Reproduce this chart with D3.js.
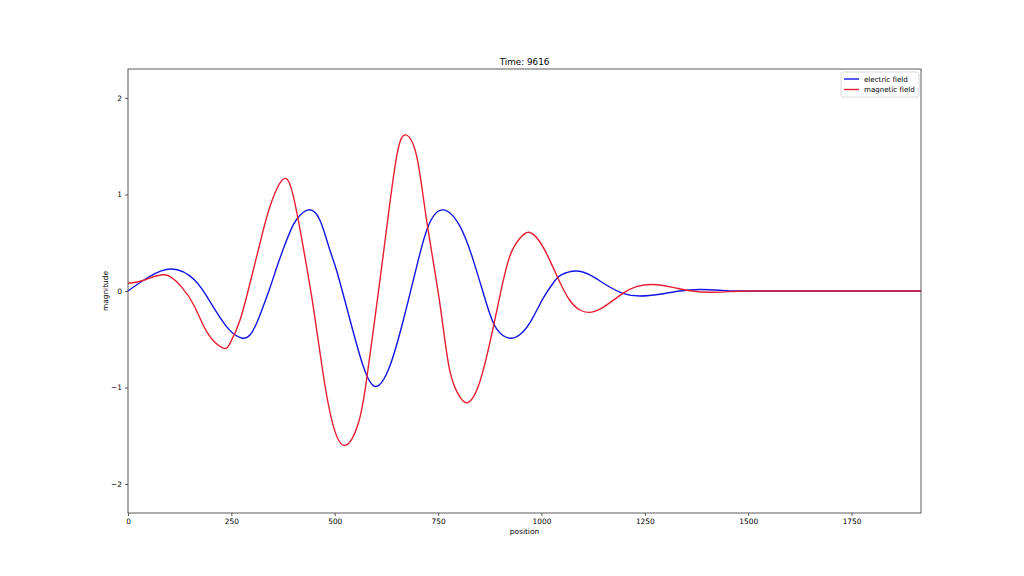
<!DOCTYPE html>
<html>
<head>
<meta charset="utf-8">
<script src="https://cdn.jsdelivr.net/npm/d3@7"></script>
<style>
  html, body { margin: 0; padding: 0; background: #ffffff; }
  svg { display: block; }
  text { font-family: "DejaVu Sans", sans-serif; fill: #000; }
</style>
</head>
<body>
<svg id="chart" width="1024" height="576"></svg>
<script>
// ---- data ----
const titleText = "Time: 9616";
const xLabel = "position";
const yLabel = "magnitude";
const seriesNames = ["electric field", "magnetic field"];
const xTicks = [0, 250, 500, 750, 1000, 1250, 1500, 1750];
const yTicks = [-2, -1, 0, 1, 2];
const xDomain = [0, 1918];
const yDomain = [-2.3, 2.3];

const electricPos = [0, 48, 105, 161, 201, 242, 275, 295, 311, 327, 343, 359, 376, 392, 408, 436, 464, 487, 504, 537, 569, 599, 633, 666, 698, 726, 762, 803, 835, 867, 891, 925, 956, 980, 1004, 1028, 1048, 1083, 1117, 1157, 1197, 1238, 1286, 1334, 1383, 1431, 1479, 1600, 1750, 1918];
const electricVal = [0, 0.14, 0.228, 0.114, -0.128, -0.387, -0.487, -0.456, -0.335, -0.16, 0.028, 0.235, 0.44, 0.615, 0.743, 0.84, 0.736, 0.44, 0.22, -0.30, -0.78, -0.99, -0.78, -0.30, 0.25, 0.67, 0.84, 0.67, 0.32, -0.13, -0.39, -0.49, -0.42, -0.27, -0.076, 0.08, 0.166, 0.207, 0.166, 0.062, -0.024, -0.052, -0.034, 0, 0.015, 0.008, 0, 0, 0, 0];

const magneticPos = [0, 40, 89, 129, 161, 193, 229, 247, 271, 295, 319, 343, 376, 400, 424, 448, 472, 496, 525, 557, 577, 601, 625, 650, 672, 698, 722, 754, 778, 803, 822, 847, 875, 899, 923, 948, 970, 996, 1020, 1044, 1068, 1093, 1117, 1149, 1197, 1230, 1268, 1318, 1358, 1415, 1471, 1520, 1600, 1750, 1918];
const magneticVal = [0.08, 0.114, 0.168, 0.045, -0.16, -0.44, -0.59, -0.54, -0.30, 0.08, 0.49, 0.87, 1.16, 0.98, 0.45, -0.16, -0.86, -1.39, -1.60, -1.37, -0.92, -0.16, 0.63, 1.40, 1.617, 1.40, 0.74, -0.12, -0.82, -1.10, -1.157, -0.99, -0.54, -0.06, 0.355, 0.546, 0.608, 0.51, 0.32, 0.096, -0.093, -0.197, -0.221, -0.17, -0.024, 0.045, 0.067, 0.038, 0.003, -0.013, -0.003, 0, 0, 0, 0];

const colors = ["#1414e6", "#e81e32"];

// ---- layout ----
const margin = { left: 128, right: 1024 - 921, top: 69, bottom: 576 - 513 };
const W = 1024, H = 576;
const svg = d3.select("#chart");

const x = d3.scaleLinear().domain(xDomain).range([margin.left, W - margin.right]);
const y = d3.scaleLinear().domain(yDomain).range([H - margin.bottom, margin.top]);

const series = [
  { name: seriesNames[0], pts: electricPos.map((p, i) => [p, electricVal[i]]), color: colors[0] },
  { name: seriesNames[1], pts: magneticPos.map((p, i) => [p, magneticVal[i]]), color: colors[1] }
];

const line = d3.line()
  .x(d => x(d[0]))
  .y(d => y(d[1]))
  .curve(d3.curveNatural);

svg.append("defs").append("clipPath").attr("id", "clip")
  .append("rect")
  .attr("x", margin.left).attr("y", margin.top)
  .attr("width", W - margin.left - margin.right)
  .attr("height", H - margin.top - margin.bottom);

const g = svg.append("g").attr("clip-path", "url(#clip)");
series.forEach(s => {
  g.append("path")
    .datum(s.pts)
    .attr("fill", "none")
    .attr("stroke", s.color)
    .attr("stroke-width", 1.4)
    .attr("stroke-linejoin", "round")
    .attr("d", line);
});

// axes
const fmt = d => d < 0 ? "\u2212" + Math.abs(d) : String(d);
const xAxis = svg.append("g")
  .attr("transform", `translate(0,${H - margin.bottom})`)
  .call(d3.axisBottom(x).tickValues(xTicks).tickFormat(fmt).tickSizeOuter(0).tickSize(3).tickPadding(3));
const yAxis = svg.append("g")
  .attr("transform", `translate(${margin.left},0)`)
  .call(d3.axisLeft(y).tickValues(yTicks).tickFormat(fmt).tickSizeOuter(0).tickSize(3).tickPadding(3));
[xAxis, yAxis].forEach(a => {
  a.select(".domain").remove();
  a.selectAll(".tick line").attr("stroke", "#333").attr("stroke-width", 0.8);
  a.selectAll(".tick text").attr("font-family", "DejaVu Sans").attr("font-size", 7.4).attr("fill", "#111");
});

// frame
svg.append("rect")
  .attr("x", margin.left).attr("y", margin.top)
  .attr("width", W - margin.left - margin.right)
  .attr("height", H - margin.top - margin.bottom)
  .attr("fill", "none").attr("stroke", "#333").attr("stroke-width", 0.8);

// title and labels
svg.append("text")
  .attr("x", (margin.left + W - margin.right) / 2).attr("y", 65)
  .attr("text-anchor", "middle").attr("font-size", 8.8)
  .text(titleText);
svg.append("text")
  .attr("x", (margin.left + W - margin.right) / 2).attr("y", 534)
  .attr("text-anchor", "middle").attr("font-size", 7.4)
  .text(xLabel);
svg.append("text")
  .attr("transform", `translate(108,${(margin.top + H - margin.bottom) / 2}) rotate(-90)`)
  .attr("text-anchor", "middle").attr("font-size", 7.4)
  .text(yLabel);

// legend
const lg = svg.append("g").attr("transform", "translate(841,72)");
lg.append("rect")
  .attr("x", 0).attr("y", 0).attr("width", 78).attr("height", 25).attr("rx", 2)
  .attr("fill", "#fff").attr("stroke", "#d0d0d0").attr("stroke-width", 0.8);
series.forEach((s, i) => {
  const yy = 7 + i * 10.5;
  lg.append("line")
    .attr("x1", 3).attr("x2", 18).attr("y1", yy).attr("y2", yy)
    .attr("stroke", s.color).attr("stroke-width", 1.4);
  lg.append("text")
    .attr("x", 23).attr("y", yy + 2.6)
    .attr("font-size", 7.1)
    .text(s.name);
});
</script>
</body>
</html>
